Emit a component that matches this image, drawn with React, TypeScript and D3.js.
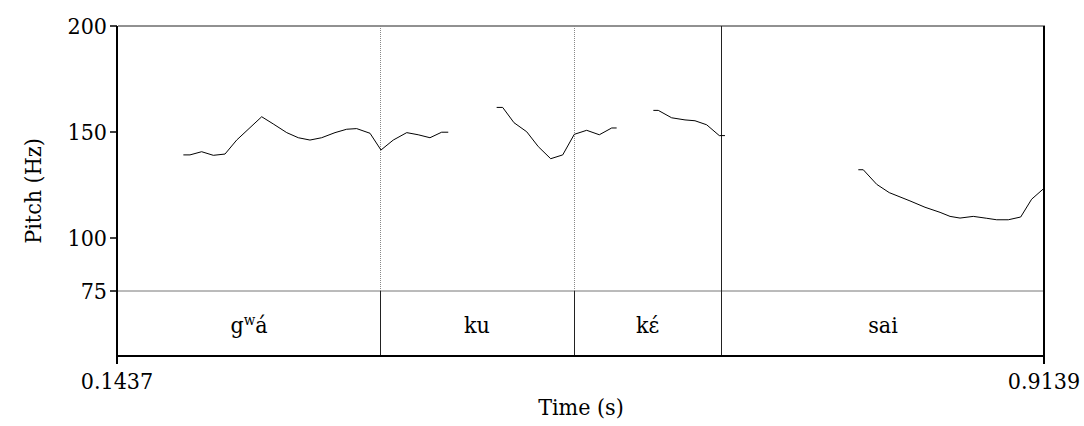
import React from "react";
import * as d3 from "d3";

const T_START = 0.1437;
const T_END = 0.9139;
const pitchTicks = [200, 150, 100, 75];
const timeTicks = [0.1437, 0.9139];

// pitch contour segments (time s, pitch Hz)
const seg1Times = [0.198, 0.2035, 0.2132, 0.2229, 0.2326, 0.2423, 0.2631, 0.2727, 0.2839, 0.2935, 0.3032, 0.3129, 0.324, 0.3337, 0.342, 0.3531, 0.3622, 0.3724, 0.3836, 0.3931, 0.4029, 0.4126, 0.4181];
const seg1Pitch = [139.2, 139.2, 140.7, 139.0, 139.6, 146.2, 157.2, 153.8, 149.7, 147.3, 146.2, 147.3, 149.7, 151.3, 151.6, 149.4, 141.5, 146.2, 149.7, 148.7, 147.3, 149.9, 149.9];
const seg2Times = [0.4583, 0.4633, 0.4727, 0.4833, 0.4929, 0.5032, 0.5132, 0.5228, 0.5331, 0.5436, 0.5539, 0.558];
const seg2Pitch = [161.6, 161.6, 154.4, 150.1, 143.1, 137.4, 139.2, 148.9, 150.8, 148.7, 151.9, 151.9];
const seg3Times = [0.5885, 0.5926, 0.6037, 0.6148, 0.6231, 0.6328, 0.6433, 0.648];
const seg3Pitch = [160.2, 160.2, 156.7, 155.7, 155.3, 153.4, 148.3, 148.3];
const seg4Times = [0.7588, 0.7629, 0.7741, 0.7845, 0.8017, 0.8142, 0.8267, 0.835, 0.8433, 0.8543, 0.8655, 0.8738, 0.8834, 0.8937, 0.9028, 0.913];
const seg4Pitch = [132.2, 132.2, 125.3, 121.4, 117.5, 114.5, 112.1, 110.2, 109.4, 110.2, 109.3, 108.6, 108.6, 109.9, 118.3, 123.4];

// tier boundaries and labels
const boundaries = [0.3614, 0.5226, 0.6447];
const boundaryDotted = [true, true, false];
const intervalStarts = [0.1437, 0.3614, 0.5226, 0.6447];
const intervalEnds = [0.3614, 0.5226, 0.6447, 0.9139];
const intervalLabels = ["gwá", "ku", "kɛ́", "sai"];

const FONT = "\"DejaVu Serif Condensed\", \"DejaVu Serif\", serif";
const txt: React.CSSProperties = { fontFamily: FONT, fontStretch: "condensed" };
const FS = 23;

export default function App() {
  const x = d3.scaleLinear().domain([T_START, T_END]).range([118, 1045]);
  const y = d3.scaleLinear().domain([75, 200]).range([291, 26]);
  const tierTop = y(75);
  const tierBottom = 356;
  const top = y(200);
  const line = d3
    .line<[number, number]>()
    .x((d) => x(d[0]))
    .y((d) => y(d[1]));
  const segs = [
    [seg1Times, seg1Pitch],
    [seg2Times, seg2Pitch],
    [seg3Times, seg3Pitch],
    [seg4Times, seg4Pitch],
  ].map(([ts, ps]) => ts.map((t, i) => [t, ps[i]] as [number, number]));

  return (
    <svg
      width={1084}
      height={426}
      style={{ position: "absolute", left: 0, top: 0, background: "#fff" }}
    >
      {/* top border */}
      <line x1={x(T_START)} x2={x(T_END)} y1={top} y2={top} stroke="#222" strokeWidth={1} />
      {/* 75 Hz line / tier top */}
      <line x1={x(T_START)} x2={x(T_END)} y1={tierTop} y2={tierTop} stroke="#777" strokeWidth={1} />
      {/* boundaries */}
      {boundaries.map((b, i) => (
        <g key={i}>
          <line
            x1={Math.round(x(b)) + 0.5}
            x2={Math.round(x(b)) + 0.5}
            y1={top}
            y2={tierTop}
            stroke={boundaryDotted[i] ? "#888" : "#222"}
            strokeWidth={1}
            strokeDasharray={boundaryDotted[i] ? "1,1" : undefined}
          />
          <line
            x1={Math.round(x(b)) + 0.5}
            x2={Math.round(x(b)) + 0.5}
            y1={tierTop}
            y2={tierBottom}
            stroke="#222"
            strokeWidth={1}
          />
        </g>
      ))}
      {/* pitch contour */}
      {segs.map((s, i) => (
        <path key={i} d={line(s) || ""} fill="none" stroke="#000" strokeWidth={1} />
      ))}
      {/* tier labels */}
      {intervalLabels.map((lab, i) => {
        const cx = (x(intervalStarts[i]) + x(intervalEnds[i])) / 2;
        if (i === 0) {
          return (
            <text key={i} x={cx} y={333} textAnchor="middle" fontSize={FS} fill="#000" style={txt}>
              g
              <tspan fontSize={15} dy={-8}>w</tspan>
              <tspan dy={8}>á</tspan>
            </text>
          );
        }
        return (
          <text key={i} x={cx} y={333} textAnchor="middle" fontSize={FS} fill="#000" style={txt}>
            {lab}
          </text>
        );
      })}
      {/* left axis */}
      <line x1={117} x2={117} y1={top} y2={tierBottom + 1} stroke="#000" strokeWidth={2} />
      {/* right border */}
      <line x1={1044} x2={1044} y1={top} y2={tierBottom + 1} stroke="#000" strokeWidth={2} />
      {/* bottom axis */}
      <line x1={116} x2={1045} y1={tierBottom} y2={tierBottom} stroke="#000" strokeWidth={2} />
      {/* pitch ticks */}
      {pitchTicks.map((p) => (
        <g key={p}>
          <line x1={110} x2={117} y1={y(p)} y2={y(p)} stroke="#000" strokeWidth={1.5} />
          <text x={107} y={y(p)} dy="0.36em" textAnchor="end" fontSize={FS} fill="#000" style={txt}>
            {p}
          </text>
        </g>
      ))}
      {/* time ticks */}
      {timeTicks.map((t, i) => {
        const tx = i === 0 ? 117 : 1044;
        return (
          <g key={t}>
            <line x1={tx} x2={tx} y1={tierBottom} y2={tierBottom + 8} stroke="#000" strokeWidth={2} />
            <text x={tx} y={389} textAnchor="middle" fontSize={FS} fill="#000" style={txt}>
              {t.toFixed(4)}
            </text>
          </g>
        );
      })}
      <text x={581} y={415} textAnchor="middle" fontSize={FS} fill="#000" style={txt}>
        Time (s)
      </text>
      <text
        transform={`translate(41, ${(top + tierBottom) / 2}) rotate(-90)`}
        textAnchor="middle"
        fontSize={FS}
        fill="#000"
        style={txt}
      >
        Pitch (Hz)
      </text>
    </svg>
  );
}
